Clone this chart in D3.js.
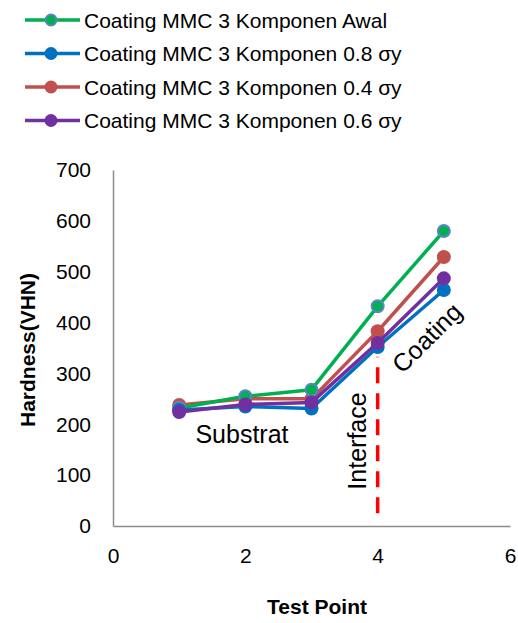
<!DOCTYPE html>
<html>
<head>
<meta charset="utf-8">
<script src="https://cdn.jsdelivr.net/npm/d3@7"></script>
<style>
  html, body { margin: 0; padding: 0; background: #fff; }
  svg { display: block; font-family: "Liberation Sans", Arial, sans-serif; }
</style>
</head>
<body>
<svg id="chart" width="518" height="623"></svg>
<script>
// Hardness profile along the test points
const testPoints = [1, 2, 3, 4, 5];
const seriesNames = [
  "Coating MMC 3 Komponen Awal",
  "Coating MMC 3 Komponen 0.8 σy",
  "Coating MMC 3 Komponen 0.4 σy",
  "Coating MMC 3 Komponen 0.6 σy"
];
const awal = [232, 255, 268, 432, 580];
const sy08 = [228, 235, 231, 352, 464];
const sy04 = [238, 250, 250, 383, 529];
const sy06 = [224, 239, 243, 360, 487];
const seriesColors = ["#00B050", "#0070C0", "#C0504D", "#7030A0"];
const xTicks = [0, 2, 4, 6];
const yTicks = [0, 100, 200, 300, 400, 500, 600, 700];
const interfaceLine = { x: 4, y0: 25, y1: 333 };

const seriesValues = [awal, sy08, sy04, sy06];
const drawOrder = [2, 0, 1, 3];

const svg = d3.select("#chart");
const x = d3.scaleLinear().domain([0, 6]).range([113, 510]);
const y = d3.scaleLinear().domain([0, 700]).range([526, 170]);

// Axes (no tick marks, gray lines)
const xAxis = svg.append("g").attr("transform", `translate(0,${y(0)})`)
  .call(d3.axisBottom(x).tickValues(xTicks).tickSize(0).tickPadding(22).tickFormat(d3.format("d")));
const yAxis = svg.append("g").attr("transform", `translate(${x(0)},0)`)
  .call(d3.axisLeft(y).tickValues(yTicks).tickSize(0).tickPadding(22).tickFormat(d3.format("d")));
[xAxis, yAxis].forEach(a => {
  a.select(".domain").attr("stroke", "#8c8c8c").attr("stroke-width", 1.5);
  a.selectAll("text").attr("font-size", 21).attr("fill", "#000")
    .attr("font-family", "Liberation Sans, Arial, sans-serif");
});

// Axis titles
svg.append("text")
  .attr("transform", `translate(35,350) rotate(-90)`)
  .attr("text-anchor", "middle").attr("font-weight", "bold").attr("font-size", 21)
  .text("Hardness(VHN)");
svg.append("text")
  .attr("x", 317).attr("y", 614)
  .attr("text-anchor", "middle").attr("font-weight", "bold").attr("font-size", 21)
  .text("Test Point");

// Interface marker, dashed upward from its lower end
svg.append("line")
  .attr("x1", x(interfaceLine.x)).attr("x2", x(interfaceLine.x))
  .attr("y1", y(interfaceLine.y0)).attr("y2", y(interfaceLine.y1))
  .attr("stroke", "#FF0000").attr("stroke-width", 3.5)
  .attr("stroke-dasharray", "16,10");

// Series lines and markers
const line = d3.line().x((d, i) => x(testPoints[i])).y(d => y(d));
drawOrder.forEach(k => {
  const g = svg.append("g");
  g.append("path").datum(seriesValues[k])
    .attr("d", line).attr("fill", "none")
    .attr("stroke", seriesColors[k]).attr("stroke-width", 3.5)
    .attr("stroke-linejoin", "round");
  g.selectAll("circle").data(seriesValues[k]).join("circle")
    .attr("cx", (d, i) => x(testPoints[i])).attr("cy", d => y(d))
    .attr("r", k === 0 ? 6 : 7)
    .attr("fill", seriesColors[k])
    .attr("stroke", k === 0 ? "#5B86C5" : seriesColors[k])
    .attr("stroke-width", k === 0 ? 2 : 0);
});

// Region labels
svg.append("text").attr("x", 242).attr("y", 443)
  .attr("text-anchor", "middle").attr("font-size", 25).text("Substrat");
svg.append("text")
  .attr("transform", "translate(366,441) rotate(-90)")
  .attr("text-anchor", "middle").attr("font-size", 25).text("Interface");
svg.append("text")
  .attr("transform", "translate(433,344) rotate(-45)")
  .attr("text-anchor", "middle").attr("font-size", 25).text("Coating");

// Legend
const legend = svg.append("g");
seriesNames.forEach((name, k) => {
  const cy = 20 + k * 33.5;
  legend.append("line").attr("x1", 25).attr("x2", 80).attr("y1", cy).attr("y2", cy)
    .attr("stroke", seriesColors[k]).attr("stroke-width", 3.5);
  legend.append("circle").attr("cx", 51).attr("cy", cy)
    .attr("r", k === 0 ? 5.5 : 6.5)
    .attr("fill", seriesColors[k])
    .attr("stroke", k === 0 ? "#5B86C5" : seriesColors[k])
    .attr("stroke-width", k === 0 ? 2 : 0);
  legend.append("text").attr("x", 84).attr("y", cy + 7.5)
    .attr("font-size", 21).text(name);
});
</script>
</body>
</html>
